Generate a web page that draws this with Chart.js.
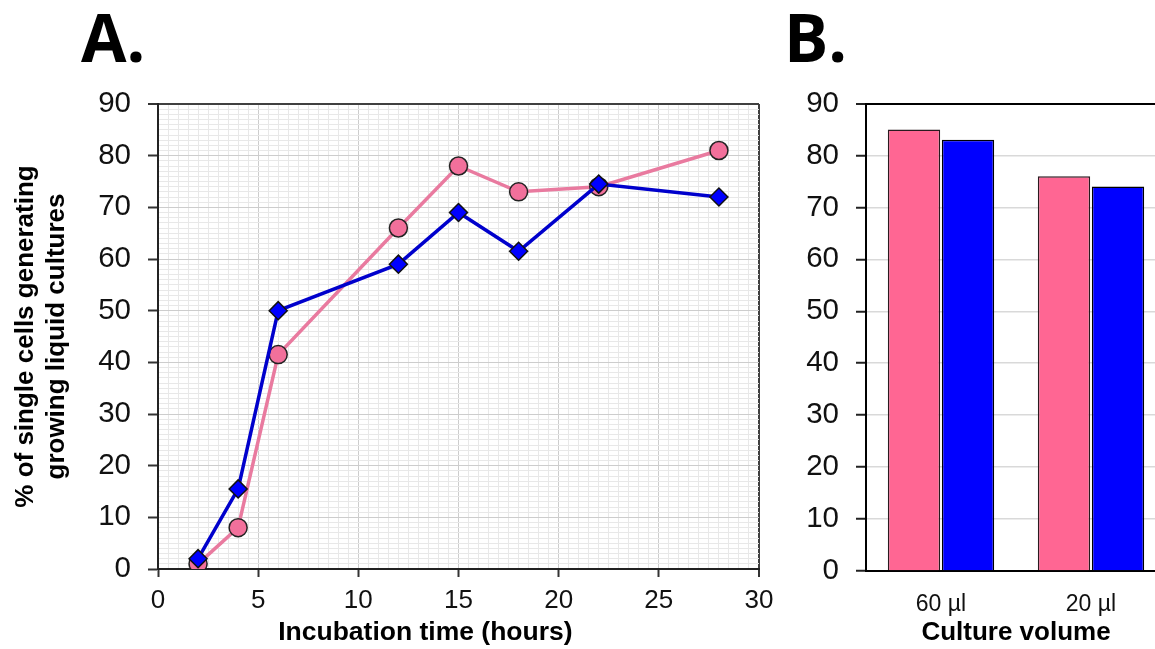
<!DOCTYPE html>
<html>
<head>
<meta charset="utf-8">
<script src="https://cdn.jsdelivr.net/npm/chart.js@4.4.0/dist/chart.umd.min.js"></script>
<style>
    body { margin: 0; background: #fff; overflow: hidden; }
    #wrap { position: relative; width: 1155px; height: 649px; overflow: hidden; }
    canvas { position: absolute; top: 0; }
    #chartA { left: 0; }
    #chartB { left: 780px; }
    .panel { position: absolute; font-family: 'Open Sans', sans-serif; font-weight: 700; font-size: 66px; line-height: 64px; color: #000; }
</style>
</head>
<body>
<div id="wrap">
    <div class="panel" style="left: 81px; top: 4px;">A.</div>
    <div class="panel" style="left: 784px; top: 4px;">B.</div>
    <canvas id="chartA" width="790" height="649"></canvas>
    <canvas id="chartB" width="400" height="649"></canvas>
</div>
<script>
// panel A: time course
const hours = [2, 4, 6, 12, 15, 18, 22, 28];
const pinkSeries = [1, 8, 41.5, 66, 78, 73, 74, 81];
const blueSeries = [2, 15.5, 50, 59, 69, 61.5, 74.5, 72];

// panel B: culture volume
const volumes = ['60 µl', '20 µl'];
const pinkBars = [85, 76];
const blueBars = [83, 74];

const FONT = "'Liberation Sans', Arial, sans-serif";
const PINK_LINE = '#E97A9F';
const PINK_FILL = '#F2709B';
const BLUE_LINE = '#0000CC';
const BLUE_FILL = '#0000FF';

function toPoints(xs, ys) {
    return xs.map((x, i) => ({ x: x, y: ys[i] }));
}

document.addEventListener('DOMContentLoaded', function () {
    let ctxA = document.getElementById('chartA').getContext('2d');
    new Chart(ctxA, {
        type: 'line',
        data: {
            datasets: [
                {
                    label: 'blue',
                    data: toPoints(hours, blueSeries),
                    borderColor: BLUE_LINE,
                    borderWidth: 3.5,
                    pointStyle: 'rectRot',
                    pointRadius: 9,
                    pointBackgroundColor: BLUE_FILL,
                    pointBorderColor: '#111',
                    pointBorderWidth: 1.5,
                },
                {
                    label: 'pink',
                    data: toPoints(hours, pinkSeries),
                    borderColor: PINK_LINE,
                    borderWidth: 3.5,
                    pointStyle: 'circle',
                    pointRadius: 9,
                    pointBackgroundColor: PINK_FILL,
                    pointBorderColor: '#222',
                    pointBorderWidth: 1.5,
                }
            ]
        },
        options: {
            responsive: false,
            animation: false,
            layout: { padding: { top: 104, right: 31, left: 0, bottom: 0 } },
            plugins: { legend: { display: false }, tooltip: { enabled: false } },
            scales: {
                x: {
                    type: 'linear',
                    min: 0,
                    max: 30,
                    afterFit: (s) => { s.height = 80; },
                    ticks: {
                        stepSize: 0.5,
                        autoSkip: false,
                        maxRotation: 0,
                        padding: 8,
                        color: '#111',
                        font: { family: FONT, size: 26 },
                        callback: (v) => v % 5 === 0 ? v : ''
                    },
                    grid: {
                        color: (c) => c.tick.value === 30 ? '#404040' : (c.tick.value % 5 === 0 ? '#cdcdcd' : '#e8e8e8'),
                        lineWidth: (c) => c.tick.value === 30 ? 2 : 1,
                        tickLength: 8,
                        tickWidth: 2,
                        tickColor: (c) => c.tick.value % 5 === 0 ? '#333' : 'rgba(0,0,0,0)'
                    },
                    border: { color: '#222', width: 2 },
                    title: {
                        display: true,
                        text: 'Incubation time (hours)         ',
                        color: '#000',
                        font: { family: FONT, size: 26.5, weight: 'bold' },
                        padding: { top: 0, bottom: 0 }
                    }
                },
                y: {
                    min: 0,
                    max: 90,
                    afterFit: (s) => { s.width = 158; },
                    ticks: {
                        stepSize: 1,
                        autoSkip: false,
                        padding: 17,
                        color: '#111',
                        font: { family: FONT, size: 29.5 },
                        callback: (v) => v % 10 === 0 ? v : ''
                    },
                    grid: {
                        color: (c) => c.tick.value === 90 ? '#404040' : (c.tick.value % 10 === 0 ? '#cdcdcd' : '#e8e8e8'),
                        lineWidth: (c) => c.tick.value === 90 ? 2 : 1,
                        tickLength: 10,
                        tickWidth: 2,
                        tickColor: (c) => c.tick.value % 10 === 0 ? '#333' : 'rgba(0,0,0,0)'
                    },
                    border: { color: '#222', width: 2 },
                    title: {
                        display: true,
                        text: ['% of single cells generating', 'growing liquid cultures'],
                        color: '#000',
                        font: { family: FONT, size: 26, weight: 'bold', lineHeight: 1.2 },
                        padding: { top: 10, bottom: 0 }
                    }
                }
            }
        }
    });

    let ctxB = document.getElementById('chartB').getContext('2d');
    new Chart(ctxB, {
        type: 'bar',
        data: {
            labels: volumes,
            datasets: [
                {
                    label: 'pink',
                    data: pinkBars,
                    backgroundColor: '#FF6693',
                    borderColor: '#2a1a1f',
                    borderWidth: 1.5,
                    categoryPercentage: 0.72,
                    barPercentage: 0.97
                },
                {
                    label: 'blue',
                    data: blueBars,
                    backgroundColor: '#0000FF',
                    borderColor: '#000',
                    borderWidth: 1.5,
                    categoryPercentage: 0.72,
                    barPercentage: 0.97
                }
            ]
        },
        options: {
            responsive: false,
            animation: false,
            layout: { padding: { top: 103.5, right: 14, left: 0, bottom: 0 } },
            plugins: { legend: { display: false }, tooltip: { enabled: false } },
            scales: {
                x: {
                    afterFit: (s) => { s.height = 78; },
                    ticks: {
                        padding: 12,
                        color: '#111',
                        font: { family: FONT, size: 23 }
                    },
                    grid: { display: false },
                    border: { color: '#000', width: 2 },
                    title: {
                        display: true,
                        text: 'Culture volume',
                        color: '#000',
                        font: { family: FONT, size: 26, weight: 'bold' },
                        padding: { top: 0, bottom: 1 }
                    }
                },
                y: {
                    min: 0,
                    max: 90,
                    afterFit: (s) => { s.width = 86; },
                    ticks: {
                        stepSize: 10,
                        padding: 17,
                        color: '#111',
                        font: { family: FONT, size: 29.5 }
                    },
                    grid: {
                        color: (c) => c.tick.value === 90 ? '#000' : '#d9d9d9',
                        lineWidth: (c) => c.tick.value === 90 ? 2 : 1.5,
                        tickLength: 10,
                        tickWidth: 2,
                        tickColor: '#222'
                    },
                    border: { color: '#000', width: 2 }
                }
            }
        }
    });
});
</script>
</body>
</html>
